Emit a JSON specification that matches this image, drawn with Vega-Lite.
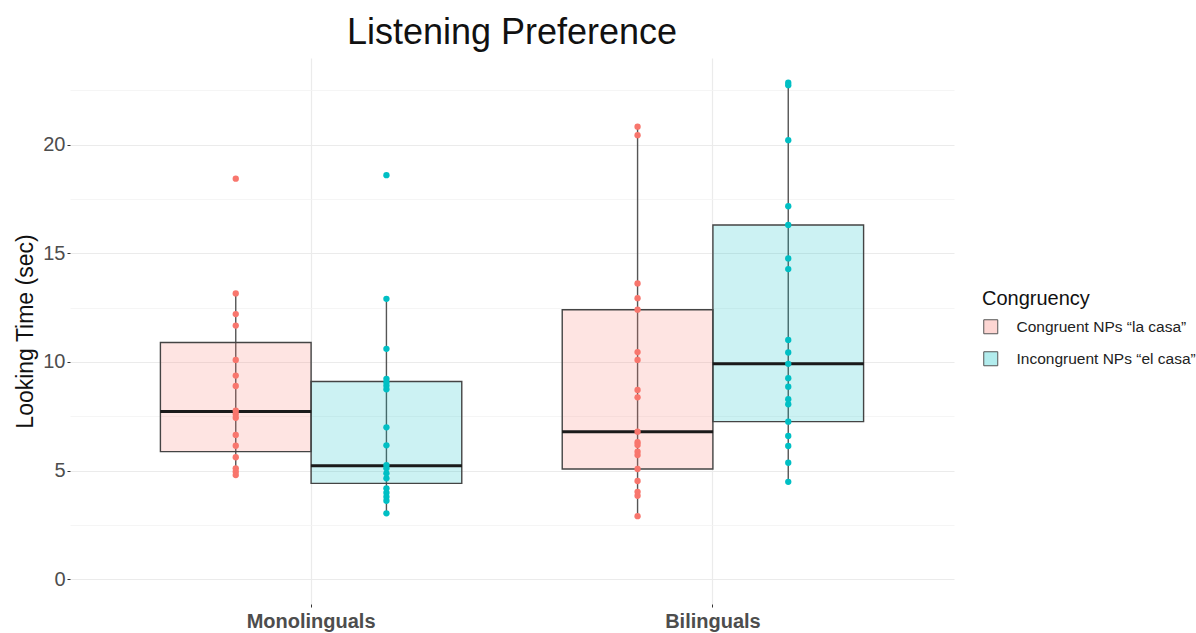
{
  "$schema": "https://vega.github.io/schema/vega-lite/v6.json",
  "autosize": "none",
  "width": 884,
  "height": 546,
  "padding": {"left": 70, "top": 58, "right": 242, "bottom": 29},
  "background": "white",
  "config": {
    "font": "Liberation Sans",
    "view": {"stroke": null}
  },
  "title": {
    "text": "Listening Preference",
    "fontSize": 36,
    "font": "Liberation Sans",
    "fontWeight": "normal",
    "color": "#111111",
    "anchor": "middle",
    "baseline": "alphabetic",
    "offset": 15,
    "dy": 37
  },
  "datasets": {
    "stats": [
      {"group": "Monolinguals", "Congruency": "Congruent NPs “la casa”", "lower": 4.79, "q1": 5.87, "median": 7.72, "q3": 10.89, "upper": 13.15},
      {"group": "Monolinguals", "Congruency": "Incongruent NPs “el casa”", "lower": 3.03, "q1": 4.41, "median": 5.22, "q3": 9.10, "upper": 12.90},
      {"group": "Bilinguals", "Congruency": "Congruent NPs “la casa”", "lower": 2.90, "q1": 5.07, "median": 6.79, "q3": 12.40, "upper": 20.82},
      {"group": "Bilinguals", "Congruency": "Incongruent NPs “el casa”", "lower": 4.48, "q1": 7.25, "median": 9.91, "q3": 16.30, "upper": 22.84}
    ],
    "pts": [
      {"group": "Monolinguals", "Congruency": "Congruent NPs “la casa”", "time": 18.43},
      {"group": "Monolinguals", "Congruency": "Congruent NPs “la casa”", "time": 13.15},
      {"group": "Monolinguals", "Congruency": "Congruent NPs “la casa”", "time": 12.2},
      {"group": "Monolinguals", "Congruency": "Congruent NPs “la casa”", "time": 11.67},
      {"group": "Monolinguals", "Congruency": "Congruent NPs “la casa”", "time": 10.09},
      {"group": "Monolinguals", "Congruency": "Congruent NPs “la casa”", "time": 9.37},
      {"group": "Monolinguals", "Congruency": "Congruent NPs “la casa”", "time": 8.89},
      {"group": "Monolinguals", "Congruency": "Congruent NPs “la casa”", "time": 7.76},
      {"group": "Monolinguals", "Congruency": "Congruent NPs “la casa”", "time": 7.6},
      {"group": "Monolinguals", "Congruency": "Congruent NPs “la casa”", "time": 7.43},
      {"group": "Monolinguals", "Congruency": "Congruent NPs “la casa”", "time": 6.64},
      {"group": "Monolinguals", "Congruency": "Congruent NPs “la casa”", "time": 6.14},
      {"group": "Monolinguals", "Congruency": "Congruent NPs “la casa”", "time": 5.61},
      {"group": "Monolinguals", "Congruency": "Congruent NPs “la casa”", "time": 5.1},
      {"group": "Monolinguals", "Congruency": "Congruent NPs “la casa”", "time": 4.95},
      {"group": "Monolinguals", "Congruency": "Congruent NPs “la casa”", "time": 4.79},
      {"group": "Monolinguals", "Congruency": "Incongruent NPs “el casa”", "time": 18.59},
      {"group": "Monolinguals", "Congruency": "Incongruent NPs “el casa”", "time": 12.9},
      {"group": "Monolinguals", "Congruency": "Incongruent NPs “el casa”", "time": 10.6},
      {"group": "Monolinguals", "Congruency": "Incongruent NPs “el casa”", "time": 9.22},
      {"group": "Monolinguals", "Congruency": "Incongruent NPs “el casa”", "time": 9.06},
      {"group": "Monolinguals", "Congruency": "Incongruent NPs “el casa”", "time": 8.91},
      {"group": "Monolinguals", "Congruency": "Incongruent NPs “el casa”", "time": 8.74},
      {"group": "Monolinguals", "Congruency": "Incongruent NPs “el casa”", "time": 6.99},
      {"group": "Monolinguals", "Congruency": "Incongruent NPs “el casa”", "time": 6.16},
      {"group": "Monolinguals", "Congruency": "Incongruent NPs “el casa”", "time": 5.25},
      {"group": "Monolinguals", "Congruency": "Incongruent NPs “el casa”", "time": 5.1},
      {"group": "Monolinguals", "Congruency": "Incongruent NPs “el casa”", "time": 4.87},
      {"group": "Monolinguals", "Congruency": "Incongruent NPs “el casa”", "time": 4.64},
      {"group": "Monolinguals", "Congruency": "Incongruent NPs “el casa”", "time": 4.18},
      {"group": "Monolinguals", "Congruency": "Incongruent NPs “el casa”", "time": 3.98},
      {"group": "Monolinguals", "Congruency": "Incongruent NPs “el casa”", "time": 3.79},
      {"group": "Monolinguals", "Congruency": "Incongruent NPs “el casa”", "time": 3.61},
      {"group": "Monolinguals", "Congruency": "Incongruent NPs “el casa”", "time": 3.03},
      {"group": "Bilinguals", "Congruency": "Congruent NPs “la casa”", "time": 20.82},
      {"group": "Bilinguals", "Congruency": "Congruent NPs “la casa”", "time": 20.43},
      {"group": "Bilinguals", "Congruency": "Congruent NPs “la casa”", "time": 13.61},
      {"group": "Bilinguals", "Congruency": "Congruent NPs “la casa”", "time": 12.93},
      {"group": "Bilinguals", "Congruency": "Congruent NPs “la casa”", "time": 12.4},
      {"group": "Bilinguals", "Congruency": "Congruent NPs “la casa”", "time": 10.45},
      {"group": "Bilinguals", "Congruency": "Congruent NPs “la casa”", "time": 10.09},
      {"group": "Bilinguals", "Congruency": "Congruent NPs “la casa”", "time": 8.71},
      {"group": "Bilinguals", "Congruency": "Congruent NPs “la casa”", "time": 8.37},
      {"group": "Bilinguals", "Congruency": "Congruent NPs “la casa”", "time": 6.79},
      {"group": "Bilinguals", "Congruency": "Congruent NPs “la casa”", "time": 6.3},
      {"group": "Bilinguals", "Congruency": "Congruent NPs “la casa”", "time": 6.18},
      {"group": "Bilinguals", "Congruency": "Congruent NPs “la casa”", "time": 5.87},
      {"group": "Bilinguals", "Congruency": "Congruent NPs “la casa”", "time": 5.71},
      {"group": "Bilinguals", "Congruency": "Congruent NPs “la casa”", "time": 5.07},
      {"group": "Bilinguals", "Congruency": "Congruent NPs “la casa”", "time": 4.52},
      {"group": "Bilinguals", "Congruency": "Congruent NPs “la casa”", "time": 4.02},
      {"group": "Bilinguals", "Congruency": "Congruent NPs “la casa”", "time": 3.84},
      {"group": "Bilinguals", "Congruency": "Congruent NPs “la casa”", "time": 2.9},
      {"group": "Bilinguals", "Congruency": "Incongruent NPs “el casa”", "time": 22.84},
      {"group": "Bilinguals", "Congruency": "Incongruent NPs “el casa”", "time": 22.73},
      {"group": "Bilinguals", "Congruency": "Incongruent NPs “el casa”", "time": 20.2},
      {"group": "Bilinguals", "Congruency": "Incongruent NPs “el casa”", "time": 17.16},
      {"group": "Bilinguals", "Congruency": "Incongruent NPs “el casa”", "time": 16.3},
      {"group": "Bilinguals", "Congruency": "Incongruent NPs “el casa”", "time": 14.76},
      {"group": "Bilinguals", "Congruency": "Incongruent NPs “el casa”", "time": 14.27},
      {"group": "Bilinguals", "Congruency": "Incongruent NPs “el casa”", "time": 11.01},
      {"group": "Bilinguals", "Congruency": "Incongruent NPs “el casa”", "time": 10.43},
      {"group": "Bilinguals", "Congruency": "Incongruent NPs “el casa”", "time": 9.91},
      {"group": "Bilinguals", "Congruency": "Incongruent NPs “el casa”", "time": 9.25},
      {"group": "Bilinguals", "Congruency": "Incongruent NPs “el casa”", "time": 8.86},
      {"group": "Bilinguals", "Congruency": "Incongruent NPs “el casa”", "time": 8.28},
      {"group": "Bilinguals", "Congruency": "Incongruent NPs “el casa”", "time": 8.05},
      {"group": "Bilinguals", "Congruency": "Incongruent NPs “el casa”", "time": 7.25},
      {"group": "Bilinguals", "Congruency": "Incongruent NPs “el casa”", "time": 6.59},
      {"group": "Bilinguals", "Congruency": "Incongruent NPs “el casa”", "time": 6.13},
      {"group": "Bilinguals", "Congruency": "Incongruent NPs “el casa”", "time": 5.36},
      {"group": "Bilinguals", "Congruency": "Incongruent NPs “el casa”", "time": 4.48}
    ]
  },
  "encoding": {
    "x": {
      "field": "group",
      "type": "nominal",
      "scale": {"domain": ["Monolinguals", "Bilinguals"], "paddingInner": 0.25, "paddingOuter": 0.225},
      "axis": {
        "title": null,
        "bandPosition": 0.5,
        "grid": true,
        "gridColor": "#ebebeb",
        "gridWidth": 1.2,
        "domain": false,
        "tickSize": 3,
        "tickColor": "#333333",
        "labelAngle": 0,
        "labelFont": "Liberation Sans",
        "labelFontSize": 20,
        "labelFontWeight": "bold",
        "labelColor": "#4d4d4d",
        "labelPadding": 4
      }
    },
    "xOffset": {
      "field": "Congruency",
      "type": "nominal",
      "scale": {"paddingInner": 0, "paddingOuter": 0}
    }
  },
  "layer": [
    {
      "data": {"name": "stats"},
      "mark": {"type": "rule", "color": "#555555", "strokeWidth": 1.4},
      "encoding": {
        "y": {
          "field": "lower",
          "type": "quantitative",
          "scale": {"domain": [-1.14, 23.98], "nice": false, "zero": false},
          "axis": {
            "title": "Looking Time (sec)",
            "titleFont": "Liberation Sans",
            "titleFontSize": 23,
            "titleFontWeight": "normal",
            "titleColor": "#111111",
            "titlePadding": 5,
            "values": [0, 2.5, 5, 7.5, 10, 12.5, 15, 17.5, 20, 22.5],
            "labelExpr": "datum.value % 5 === 0 ? datum.label : ''",
            "grid": true,
            "gridColor": {"condition": {"test": "datum.value % 5 !== 0", "value": "#f3f3f3"}, "value": "#ebebeb"},
            "gridWidth": {"condition": {"test": "datum.value % 5 !== 0", "value": 0.8}, "value": 1.2},
            "tickOpacity": {"condition": {"test": "datum.value % 5 !== 0", "value": 0}, "value": 1},
            "domain": false,
            "tickSize": 3,
            "tickColor": "#333333",
            "labelFont": "Liberation Sans",
            "labelFontSize": 20,
            "labelColor": "#4d4d4d",
            "labelPadding": 2
          }
        },
        "y2": {"field": "upper"}
      }
    },
    {
      "data": {"name": "stats"},
      "mark": {"type": "bar", "fillOpacity": 0.2, "stroke": "#444444", "strokeWidth": 1.4, "width": {"band": 1}},
      "encoding": {
        "y": {"field": "q1", "type": "quantitative"},
        "y2": {"field": "q3"},
        "color": {
          "field": "Congruency",
          "type": "nominal",
          "scale": {"domain": ["Congruent NPs “la casa”", "Incongruent NPs “el casa”"], "range": ["#F8766D", "#00BFC4"]},
          "legend": {
            "orient": "none",
            "legendX": 912,
            "legendY": 231,
            "padding": 0,
            "title": "Congruency",
            "titleFont": "Liberation Sans",
            "titleFontSize": 20,
            "titleFontWeight": "normal",
            "titleColor": "#111111",
            "titlePadding": 10,
            "symbolType": "square",
            "symbolSize": 196,
            "symbolOffset": 1,
            "symbolStrokeColor": "#555555",
            "symbolStrokeWidth": 1,
            "symbolOpacity": 1,
            "labelFont": "Liberation Sans",
            "labelFontSize": 15.5,
            "labelColor": "#222222",
            "labelOffset": 18,
            "labelLimit": 400,
            "rowPadding": 13,
            "encode": {"symbols": {"update": {"fillOpacity": {"value": 0.3}}}}
          }
        }
      }
    },
    {
      "data": {"name": "stats"},
      "mark": {"type": "tick", "orient": "horizontal", "color": "#1a1a1a", "thickness": 3, "size": 151, "opacity": 1},
      "encoding": {
        "y": {"field": "median", "type": "quantitative"}
      }
    },
    {
      "data": {"name": "pts"},
      "mark": {"type": "circle", "size": 40, "opacity": 1},
      "encoding": {
        "y": {"field": "time", "type": "quantitative"},
        "color": {"field": "Congruency", "type": "nominal"}
      }
    }
  ]
}
